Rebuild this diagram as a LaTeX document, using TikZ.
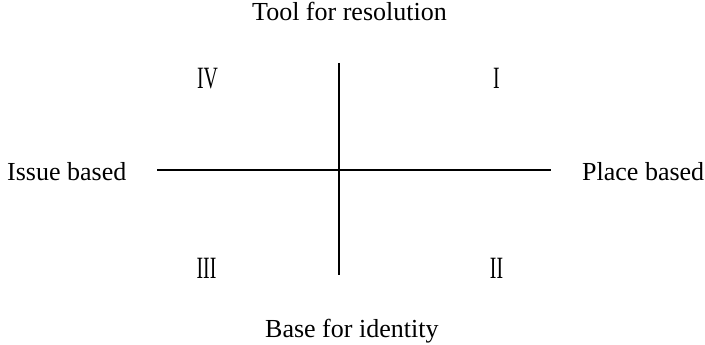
\documentclass[tikz,border=0pt]{standalone}
\usepackage{fontspec}
\setmainfont{Liberation Serif}
\usepackage{graphicx}
\newcommand{\lbltext}[1]{{\fontsize{26}{30}\selectfont #1}}
\newcommand{\numtext}[1]{\scalebox{0.64}[1]{\fontsize{31}{34}\selectfont #1}}
\begin{document}
\begin{tikzpicture}[x=1pt,y=-1pt,
  axis/.style={line width=1.6pt,black},
  lbl/.style={inner sep=0pt,anchor=base west},
  num/.style={inner sep=0pt,anchor=center}]
\useasboundingbox (0,0) rectangle (705,345);
\node[lbl] (top) at (252,21) {\lbltext{Tool for resolution}};
\node[lbl] (bottom) at (265,337) {\lbltext{Base for identity}};
\node[lbl] (left) at (7,180) {\lbltext{Issue based}};
\node[lbl] (right) at (582,180) {\lbltext{Place based}};
\node[num] (q4) at (207.5,78.5) {\numtext{IV}};
\node[num] (q1) at (496.5,78.5) {\numtext{I}};
\node[num] (q3) at (206.5,268) {\numtext{III}};
\node[num] (q2) at (496.5,268) {\numtext{II}};
\coordinate (vt) at (339,63);
\coordinate (vb) at (339,275);
\coordinate (hl) at (157,170);
\coordinate (hr) at (551,170);
\draw[axis] (vt) -- (vb);
\draw[axis] (hl) -- (hr);
\end{tikzpicture}
\end{document}
